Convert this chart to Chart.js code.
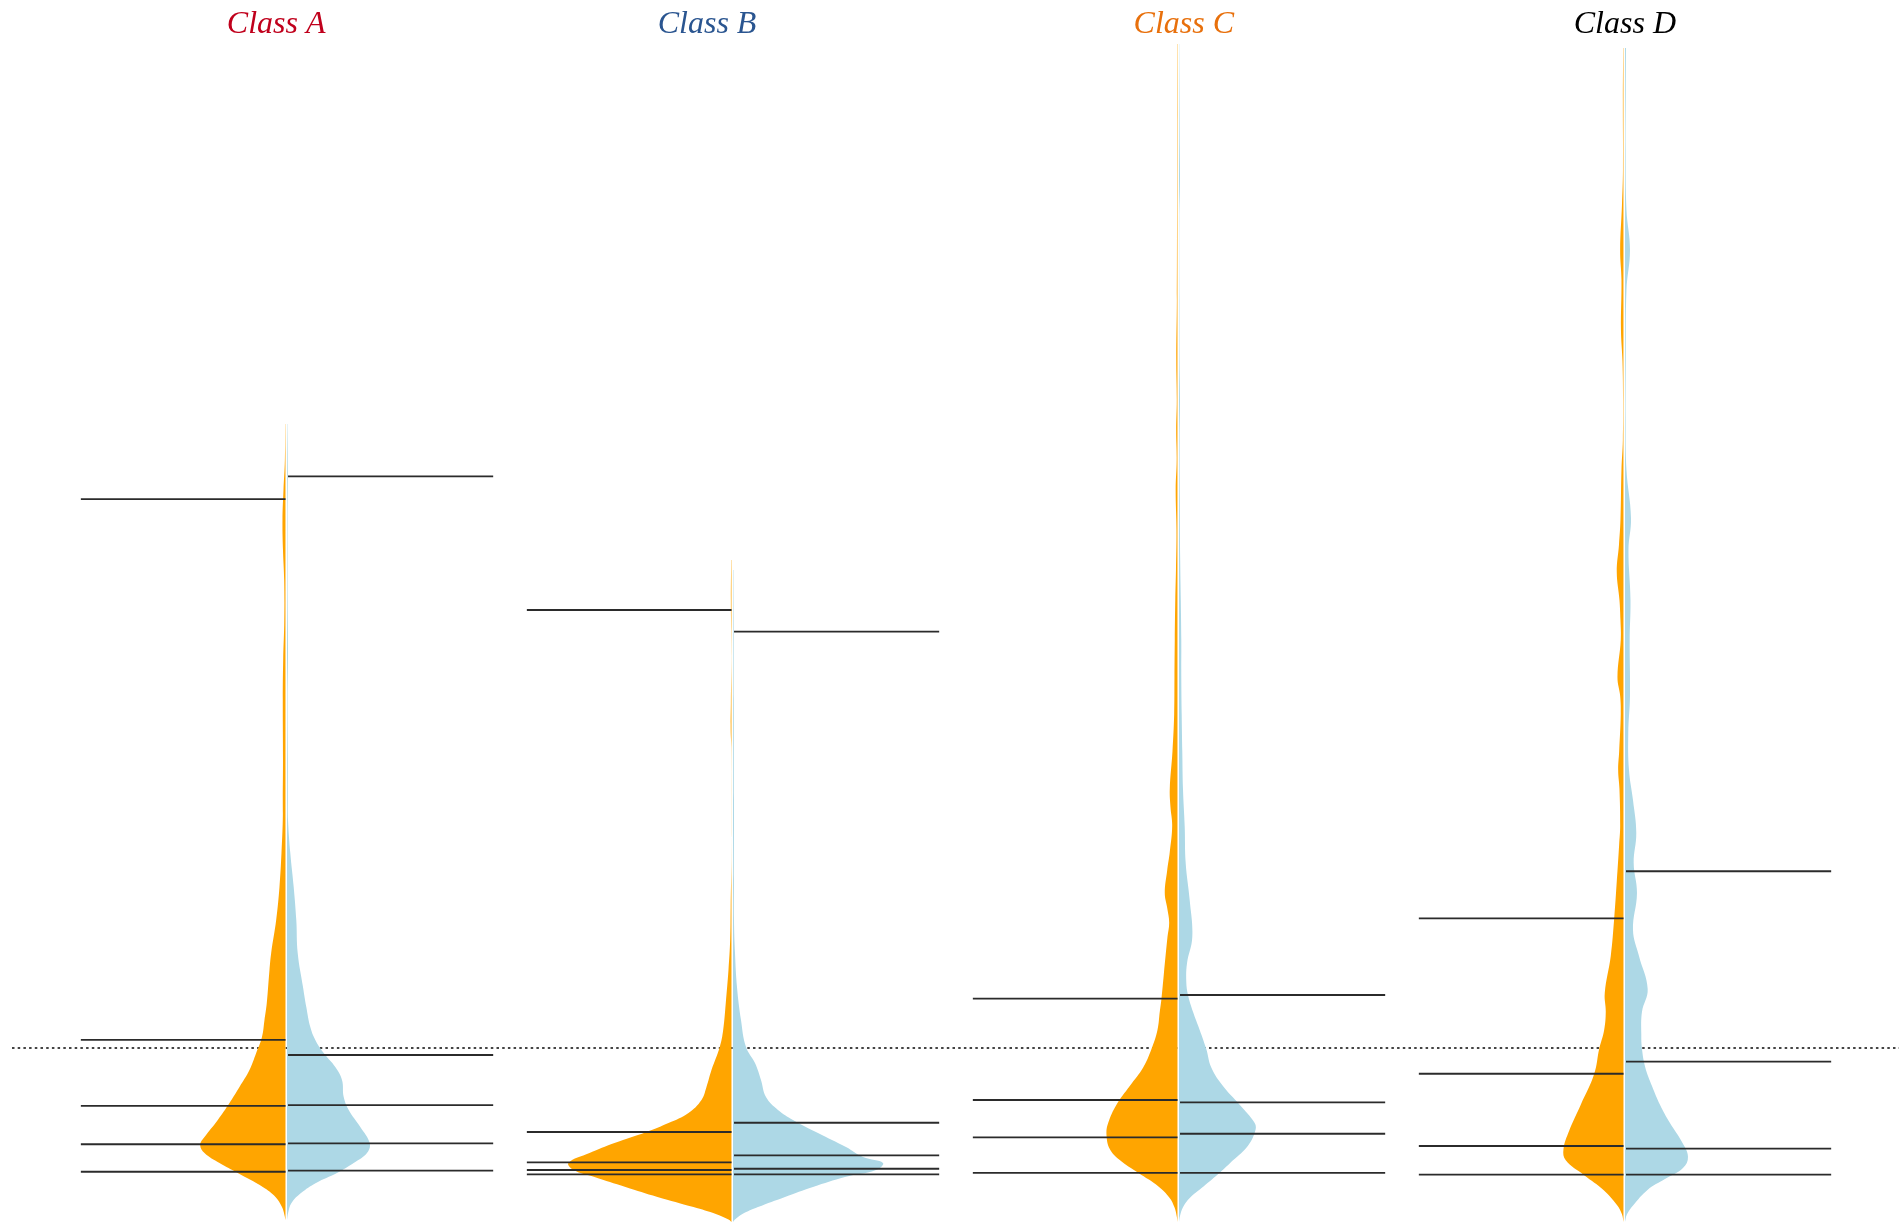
<!DOCTYPE html>
<html>
<head>
<meta charset="utf-8">
<title>Split violins by class</title>
<script src="https://cdn.jsdelivr.net/npm/chart.js@4/dist/chart.umd.min.js"></script>
<style>
  html, body { margin: 0; padding: 0; background: #ffffff; }
  canvas { display: block; }
</style>
</head>
<body>
<canvas id="violins" width="1899" height="1223"></canvas>
<script>
// Class names and title colours
const classNames = ['Class A', 'Class B', 'Class C', 'Class D'];
const titleColors = ['#c0001c', '#2a5590', '#e8700c', '#000000'];

// Kernel density profiles, [value, density], left half (orange) and right half (blue)
const aLeft = [[4.566,0.002],[4.360,0.006],[4.189,0.020],[4.017,0.030],[3.846,0.025],[3.674,0.013],[3.446,0.012],[3.217,0.023],[2.989,0.027],[2.646,0.025],[2.417,0.027],[2.303,0.027],[2.114,0.040],[1.920,0.060],[1.731,0.093],[1.543,0.143],[1.446,0.160],[1.257,0.187],[1.160,0.210],[1.063,0.235],[0.971,0.293],[0.874,0.360],[0.777,0.460],[0.686,0.560],[0.589,0.677],[0.491,0.810],[0.446,0.853],[0.400,0.810],[0.343,0.660],[0.286,0.477],[0.206,0.227],[0.149,0.100],[0.091,0.035],[0.045,0.010],[0.017,0.000]];
const aRight = [[4.566,0.003],[4.303,0.008],[4.017,0.005],[3.560,0.006],[3.274,0.010],[2.989,0.005],[2.646,0.008],[2.417,0.008],[2.303,0.010],[2.114,0.033],[1.920,0.067],[1.731,0.093],[1.543,0.107],[1.349,0.160],[1.234,0.193],[1.120,0.233],[1.046,0.283],[0.971,0.367],[0.891,0.483],[0.817,0.550],[0.720,0.567],[0.646,0.617],[0.549,0.733],[0.457,0.827],[0.400,0.800],[0.343,0.667],[0.286,0.500],[0.229,0.290],[0.171,0.140],[0.114,0.045],[0.060,0.012],[0.017,0.000]];
const bLeft = [[3.789,0.003],[3.560,0.006],[3.389,0.003],[3.217,0.001],[2.971,0.006],[2.817,0.008],[2.720,0.002],[2.417,0.001],[2.074,0.001],[1.806,0.008],[1.617,0.013],[1.446,0.030],[1.257,0.057],[1.103,0.083],[1.006,0.117],[0.874,0.200],[0.777,0.250],[0.703,0.300],[0.629,0.430],[0.571,0.630],[0.520,0.850],[0.457,1.170],[0.400,1.420],[0.343,1.630],[0.303,1.580],[0.263,1.370],[0.206,1.060],[0.149,0.740],[0.091,0.380],[0.050,0.150],[0.020,0.030],[0.006,0.000]];
const bRight = [[3.731,0.004],[3.446,0.006],[2.989,0.008],[2.417,0.010],[1.960,0.010],[1.731,0.010],[1.543,0.020],[1.349,0.040],[1.160,0.080],[1.006,0.130],[0.914,0.220],[0.817,0.280],[0.720,0.330],[0.646,0.450],[0.589,0.600],[0.514,0.850],[0.434,1.130],[0.377,1.300],[0.343,1.500],[0.303,1.430],[0.263,1.120],[0.206,0.800],[0.149,0.520],[0.091,0.250],[0.050,0.090],[0.020,0.020],[0.006,0.000]];
const cLeft = [[6.749,0.003],[6.417,0.004],[5.846,0.004],[5.274,0.006],[4.931,0.012],[4.703,0.007],[4.531,0.013],[4.360,0.008],[4.189,0.018],[3.960,0.010],[3.731,0.015],[3.560,0.022],[3.331,0.027],[3.120,0.030],[2.909,0.033],[2.694,0.050],[2.480,0.077],[2.377,0.070],[2.269,0.053],[2.120,0.077],[2.014,0.103],[1.886,0.127],[1.802,0.103],[1.717,0.083],[1.634,0.100],[1.419,0.137],[1.282,0.160],[1.207,0.177],[1.103,0.200],[0.994,0.260],[0.889,0.343],[0.783,0.477],[0.676,0.610],[0.571,0.693],[0.506,0.710],[0.423,0.677],[0.360,0.577],[0.287,0.393],[0.209,0.190],[0.145,0.080],[0.090,0.030],[0.040,0.008],[0.006,0.000]];
const cRight = [[6.749,0.002],[6.131,0.008],[5.960,0.010],[5.731,0.003],[5.274,0.004],[4.931,0.005],[4.703,0.010],[4.474,0.006],[4.131,0.008],[3.789,0.012],[3.560,0.018],[3.331,0.023],[3.120,0.023],[2.909,0.027],[2.694,0.033],[2.480,0.040],[2.269,0.057],[2.057,0.067],[1.846,0.107],[1.634,0.133],[1.483,0.080],[1.377,0.073],[1.303,0.090],[1.207,0.140],[1.103,0.207],[0.994,0.273],[0.889,0.323],[0.783,0.440],[0.676,0.607],[0.571,0.757],[0.527,0.763],[0.442,0.690],[0.358,0.540],[0.287,0.407],[0.209,0.245],[0.145,0.110],[0.090,0.040],[0.040,0.010],[0.006,0.000]];
const dLeft = [[6.714,0.003],[6.417,0.006],[6.017,0.005],[5.817,0.015],[5.560,0.033],[5.389,0.020],[5.103,0.025],[4.926,0.010],[4.703,0.004],[4.474,0.006],[4.303,0.020],[4.017,0.030],[3.874,0.045],[3.720,0.067],[3.560,0.040],[3.446,0.030],[3.331,0.027],[3.120,0.060],[3.011,0.033],[2.909,0.027],[2.694,0.043],[2.589,0.053],[2.480,0.040],[2.269,0.033],[2.163,0.043],[1.951,0.067],[1.738,0.093],[1.526,0.127],[1.314,0.187],[1.207,0.177],[1.103,0.193],[0.994,0.243],[0.851,0.293],[0.676,0.427],[0.527,0.543],[0.421,0.600],[0.358,0.577],[0.273,0.393],[0.189,0.200],[0.103,0.065],[0.050,0.015],[0.006,0.000]];
const dRight = [[6.714,0.010],[6.474,0.008],[6.131,0.006],[5.789,0.015],[5.560,0.050],[5.331,0.015],[4.931,0.008],[4.589,0.006],[4.303,0.015],[4.029,0.060],[3.846,0.035],[3.560,0.055],[3.331,0.047],[3.011,0.050],[2.800,0.033],[2.589,0.040],[2.417,0.080],[2.229,0.113],[2.057,0.087],[1.886,0.120],[1.674,0.080],[1.526,0.140],[1.337,0.227],[1.207,0.170],[1.080,0.163],[0.994,0.170],[0.889,0.203],[0.783,0.270],[0.676,0.350],[0.571,0.450],[0.463,0.570],[0.379,0.630],[0.314,0.580],[0.251,0.400],[0.189,0.225],[0.103,0.085],[0.050,0.020],[0.006,0.000]];

// Quantile markers for each half
const aLeftQ = [4.137, 1.046, 0.669, 0.450, 0.293];
const aRightQ = [4.266, 0.960, 0.674, 0.455, 0.299];
const bLeftQ = [3.503, 0.520, 0.347, 0.303, 0.278];
const bRightQ = [3.379, 0.573, 0.387, 0.310, 0.278];
const cLeftQ = [1.282, 0.703, 0.489, 0.287];
const cRightQ = [1.303, 0.689, 0.510, 0.287];
const dLeftQ = [1.741, 0.853, 0.440, 0.277];
const dRightQ = [2.010, 0.922, 0.425, 0.277];

// Reference level drawn as a dotted rule
const threshold = 1.0;

// ---- layout ----
const X_MIN = -0.6413, X_MAX = 3.6166;
const Y_MAX = (1223 - 44) / 175;
const HALF = 100 / 446;          // density -> x-axis units
const GAP_L = 0.0012, GAP_R = 0.0022;
const Q_LEN = 0.46;
const titleAt = [-0.022, 0.944, 2.013, 3.002];

const leftProfiles = [aLeft, bLeft, cLeft, dLeft];
const rightProfiles = [aRight, bRight, cRight, dRight];
const leftQuantiles = [aLeftQ, bLeftQ, cLeftQ, dLeftQ];
const rightQuantiles = [aRightQ, bRightQ, cRightQ, dRightQ];

const datasets = [];

// dotted reference rule, behind everything
datasets.push({
  data: [{x: -0.6144, y: threshold}, {x: X_MAX, y: threshold}],
  borderColor: '#444444', borderWidth: 2, borderDash: [2.5, 3.2],
  pointRadius: 0, fill: false, tension: 0, order: 3
});

// half violins
leftProfiles.forEach((prof, i) => {
  const base = i - GAP_L;
  datasets.push({
    data: prof.map(([v, d]) => ({x: base - d * HALF, y: v})),
    backgroundColor: '#ffa500', borderColor: 'rgba(0,0,0,0)', borderWidth: 0,
    pointRadius: 0, tension: 0.4, fill: {value: base}, order: 2
  });
});
rightProfiles.forEach((prof, i) => {
  const base = i + GAP_R;
  datasets.push({
    data: prof.map(([v, d]) => ({x: base + d * HALF, y: v})),
    backgroundColor: '#add8e6', borderColor: 'rgba(0,0,0,0)', borderWidth: 0,
    pointRadius: 0, tension: 0.4, fill: {value: base}, order: 2
  });
});

// quantile rules
const qStyle = {borderColor: '#2b2b2b', borderWidth: 1.8, pointRadius: 0, fill: false, tension: 0, order: 0};
leftQuantiles.forEach((qs, i) => qs.forEach(v => datasets.push(Object.assign({
  data: [{x: i - Q_LEN, y: v}, {x: i - 0.001, y: v}]
}, qStyle))));
rightQuantiles.forEach((qs, i) => qs.forEach(v => datasets.push(Object.assign({
  data: [{x: i + 0.0045, y: v}, {x: i + 0.0045 + Q_LEN, y: v}]
}, qStyle))));

new Chart(document.getElementById('violins'), {
  type: 'line',
  data: {datasets},
  options: {
    indexAxis: 'y',
    responsive: false,
    animation: false,
    devicePixelRatio: 1,
    events: [],
    layout: {padding: 0},
    plugins: {legend: {display: false}, tooltip: {enabled: false}},
    scales: {
      x: {type: 'linear', min: X_MIN, max: X_MAX, display: false},
      y: {type: 'linear', min: 0, max: Y_MAX, display: false},
      titles: {
        type: 'linear', axis: 'x', position: 'top', min: X_MIN, max: X_MAX,
        grid: {display: false, drawTicks: false},
        border: {display: false},
        afterBuildTicks: s => { s.ticks = titleAt.map(v => ({value: v})); },
        afterFit: s => { s.height = 44; },
        ticks: {
          autoSkip: false, maxRotation: 0, padding: 0,
          callback: (v, i) => classNames[i],
          color: c => titleColors[c.index],
          font: {family: "'Liberation Serif', 'Times New Roman', serif", style: 'italic', size: 32}
        }
      }
    }
  }
});
</script>
</body>
</html>
